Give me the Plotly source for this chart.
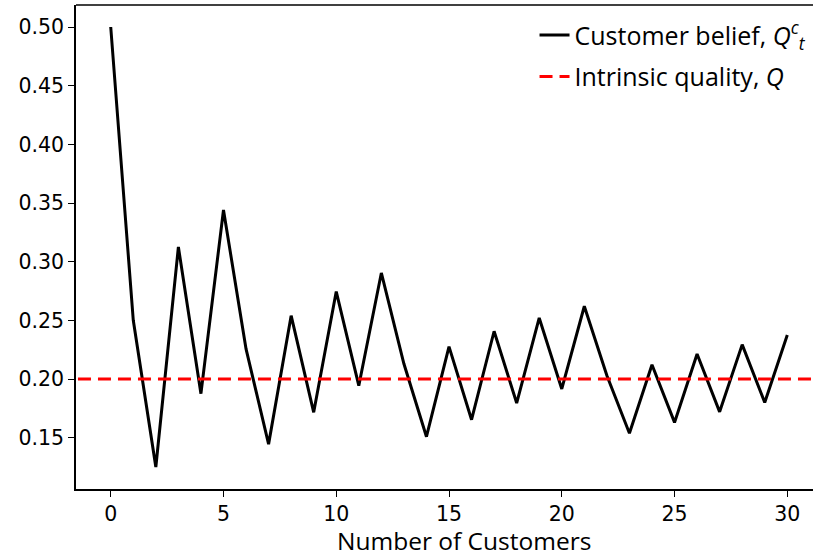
import plotly.graph_objects as go

customers = list(range(31))
belief = [0.500, 0.250, 0.125, 0.3125, 0.1875, 0.344, 0.2256, 0.1445, 0.254, 0.1716,
          0.2745, 0.1943, 0.2904, 0.213, 0.1508, 0.2276, 0.1653, 0.2407, 0.1795, 0.252,
          0.1915, 0.262, 0.203, 0.1537, 0.2122, 0.163, 0.2213, 0.172, 0.2293, 0.180, 0.2375]
intrinsic_quality = 0.20

x_ticks = [0, 5, 10, 15, 20, 25, 30]
y_ticks = [0.15, 0.20, 0.25, 0.30, 0.35, 0.40, 0.45, 0.50]
y_tick_labels = ["0.15", "0.20", "0.25", "0.30", "0.35", "0.40", "0.45", "0.50"]

fig = go.Figure()
fig.add_trace(go.Scatter(
    x=customers, y=belief, mode="lines",
    line=dict(color="black", width=3),
    name="Customer belief, <i>Q</i><sup><i>c</i></sup><sub><i>t</i></sub>",
    legendgroup="a",
))
fig.add_trace(go.Scatter(
    x=[-5, 40], y=[intrinsic_quality, intrinsic_quality], mode="lines",
    line=dict(color="red", width=3, dash="13px,7px"),
    name="Intrinsic quality, <i>Q</i>",
    legendgroup="b",
))

tick_font = dict(family="DejaVu Sans", size=20.5, color="black")
fig.update_layout(
    width=813, height=556,
    margin=dict(l=76, r=0, t=5, b=67),
    plot_bgcolor="white", paper_bgcolor="white",
    showlegend=True,
    legend=dict(
        x=0.998, y=0.985, xanchor="right", yanchor="top",
        font=dict(family="Open Sans", size=25, color="black"),
        bgcolor="rgba(255,255,255,0)", borderwidth=0,
        traceorder="grouped", tracegroupgap=6,
    ),
    xaxis=dict(
        range=[-1.54, 31.14], tickvals=x_ticks,
        showgrid=False, zeroline=False,
        showline=True, linecolor="black", linewidth=1.5,
        ticks="outside", ticklen=6, tickwidth=1.3, tickcolor="black",
        tickfont=tick_font,
    ),
    yaxis=dict(
        range=[0.10625, 0.51875], tickvals=y_ticks, ticktext=y_tick_labels,
        showgrid=False, zeroline=False,
        showline=True, linecolor="black", linewidth=1.5,
        ticks="outside", ticklen=6, tickwidth=1.3, tickcolor="black",
        tickfont=tick_font,
    ),
    shapes=[dict(type="line", xref="paper", yref="paper", x0=0, x1=1, y0=1, y1=1,
                 line=dict(color="black", width=1.5))],
    annotations=[dict(
        text="Number of Customers", xref="paper", yref="paper",
        x=0.526, y=-0.107, xanchor="center", yanchor="middle", showarrow=False,
        font=dict(family="Open Sans", size=24.5, color="black"),
    )],
)

fig.write_html("out.html")
